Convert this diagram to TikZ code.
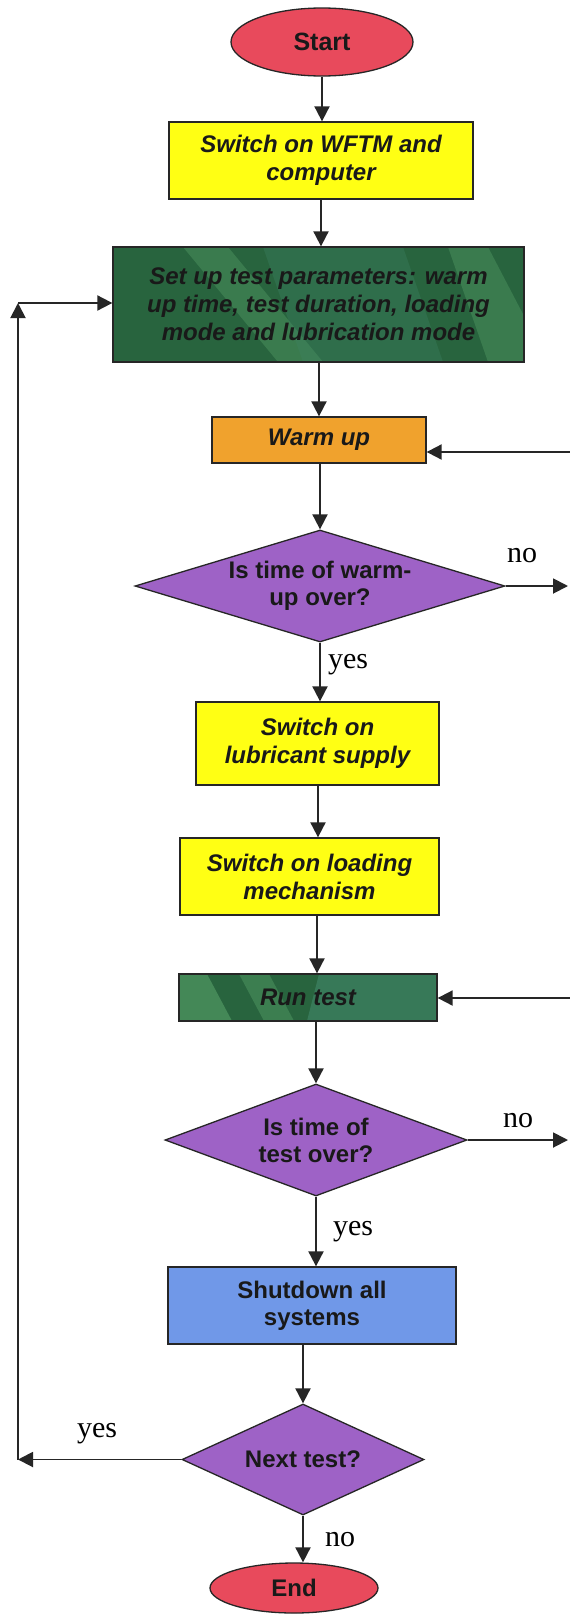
\documentclass[tikz,border=0pt]{standalone}
\usepackage{fontspec}
\setmainfont{Liberation Serif}
\setsansfont{Liberation Sans}
\usetikzlibrary{shapes.geometric,arrows.meta,calc}
\definecolor{startred}{RGB}{232,74,92}
\definecolor{boxyellow}{RGB}{255,255,20}
\definecolor{warmorange}{RGB}{240,162,45}
\definecolor{decpurple}{RGB}{158,98,198}
\definecolor{shutblue}{RGB}{112,152,232}
\definecolor{darkgreen}{RGB}{40,100,62}
\definecolor{litegreen}{RGB}{80,152,98}
\definecolor{tealgreen}{RGB}{62,130,100}
\definecolor{textdark}{RGB}{25,25,25}
\begin{document}
\begin{tikzpicture}[x=1pt,y=-1pt,
  base/.style={draw=black!85, line width=1.3pt, inner sep=0pt, text=textdark},
  proc/.style={base, rectangle, align=center, font=\sffamily\bfseries\itshape\fontsize{24}{28}\selectfont},
  term/.style={base, ellipse, fill=startred, font=\sffamily\bfseries\fontsize{25}{28}\selectfont},
  dec/.style={base, diamond, fill=decpurple, align=center, font=\sffamily\bfseries\fontsize{24}{27}\selectfont},
  lbl/.style={font=\rmfamily\fontsize{30}{32}\selectfont, anchor=base, inner sep=0pt},
  arr/.style={line width=1.9pt, draw=black!85, -{Triangle[length=15pt,width=15pt]}}
]
\fill[white] (0,0) rectangle (570,1614);
\useasboundingbox (0,0) rectangle (570,1614);

% nodes
\node[term, minimum width=182pt, minimum height=68pt] (start) at (322,42) {Start};
\node[proc, fill=boxyellow, minimum width=304pt, minimum height=77pt] (sw1) at (321,160.5) {Switch on WFTM and\\computer};
\node[proc, fill=darkgreen, minimum width=411pt, minimum height=115pt,
  path picture={
    \fill[litegreen,opacity=.45] ($(path picture bounding box.north west)+(70,0)$) -- ++(45,0) -- ++(95,115) -- ++(-45,0) -- cycle;
    \fill[tealgreen,opacity=.35] ($(path picture bounding box.north west)+(150,0)$) -- ++(140,0) -- ++(40,115) -- ++(-140,0) -- cycle;
    \fill[litegreen,opacity=.45] ($(path picture bounding box.north west)+(335,0)$) -- ++(40,0) -- ++(60,115) -- ++(-60,0) -- cycle;
  }] (setup) at (318.5,304.5) {Set up test parameters: warm\\up time, test duration, loading\\mode and lubrication mode};
\node[proc, fill=warmorange, minimum width=214pt, minimum height=46pt] (warm) at (319,440) {Warm up};
\node[dec, minimum width=370pt, minimum height=112pt, aspect=3.3] (d1) at (320,586) {Is time of warm-\\up over?};
\node[proc, fill=boxyellow, minimum width=243pt, minimum height=83pt] (lub) at (317.5,743.5) {Switch on\\lubricant supply};
\node[proc, fill=boxyellow, minimum width=259pt, minimum height=77pt] (load) at (309.5,876.5) {Switch on loading\\mechanism};
\node[proc, fill=darkgreen, minimum width=258pt, minimum height=47pt,
  path picture={
    \fill[litegreen,opacity=.7] (path picture bounding box.north west) -- ++(28,0) -- ++(25,47) -- ++(-53,0) -- cycle;
    \fill[litegreen,opacity=.5] ($(path picture bounding box.north west)+(60,0)$) -- ++(30,0) -- ++(25,47) -- ++(-30,0) -- cycle;
    \fill[tealgreen,opacity=.7] ($(path picture bounding box.north west)+(140,0)$) -- ++(118,0) -- ++(0,47) -- ++(-130,0) -- cycle;
  }] (run) at (308,997.5) {Run test};
\node[dec, minimum width=302pt, minimum height=112pt, aspect=2.7] (d2) at (316,1140) {Is time of\\test over?};
\node[proc, fill=shutblue, minimum width=288pt, minimum height=77pt, font=\sffamily\bfseries\fontsize{24}{27}\selectfont] (shut) at (312,1305.5) {Shutdown all\\systems};
\node[dec, minimum width=242pt, minimum height=111pt, aspect=2.18] (d3) at (303,1459.5) {Next test?};
\node[term, minimum width=168pt, minimum height=50pt, font=\sffamily\bfseries\fontsize{24}{28}\selectfont] (end) at (294,1588) {End};

% free ends
\coordinate (rin1) at (570,452);
\coordinate (rout1) at (568,586);
\coordinate (rin2) at (570,998);
\coordinate (rout2) at (568,1140);
\coordinate (lb) at (18,1459.5);
\coordinate (lt) at (18,303);

% main flow
\draw[arr] (start.south) -- (start.south |- sw1.north);
\draw[arr] (sw1.south -| 321,0) -- (setup.north -| 321,0);
\draw[arr] (setup.south -| 319,0) -- (warm.north -| 319,0);
\draw[arr] (warm.south -| d1.north) -- (d1.north);
\draw[arr] (d1.south) -- (d1.south |- lub.north);
\draw[arr] (lub.south -| 318,0) -- (load.north -| 318,0);
\draw[arr] (load.south -| 317,0) -- (run.north -| 317,0);
\draw[arr] (run.south -| d2.north) -- (d2.north);
\draw[arr] (d2.south) -- (d2.south |- shut.north);
\draw[arr] (shut.south -| d3.north) -- (d3.north);
\draw[arr] (d3.south) -- (end.north -| d3.south);

% side branches
\draw[arr] (d1.east) -- (rout1);
\draw[arr] (rin1) -- (warm.east |- rin1);
\draw[arr] (d2.east) -- (rout2);
\draw[arr] (rin2) -- (run.east |- rin2);

% loop back
\draw[arr] (d3.west) -- (lb);
\draw[arr] (lb) -- (lt);
\draw[arr] (lt) -- (setup.west |- lt);

% labels
\node[lbl] (no1) at (522,562) {no};
\node[lbl] (yes1) at (348,668) {yes};
\node[lbl] (no2) at (518,1127) {no};
\node[lbl] (yes2) at (353,1235) {yes};
\node[lbl] (yes3) at (97,1437) {yes};
\node[lbl] (no3) at (340,1546) {no};
\end{tikzpicture}
\end{document}
